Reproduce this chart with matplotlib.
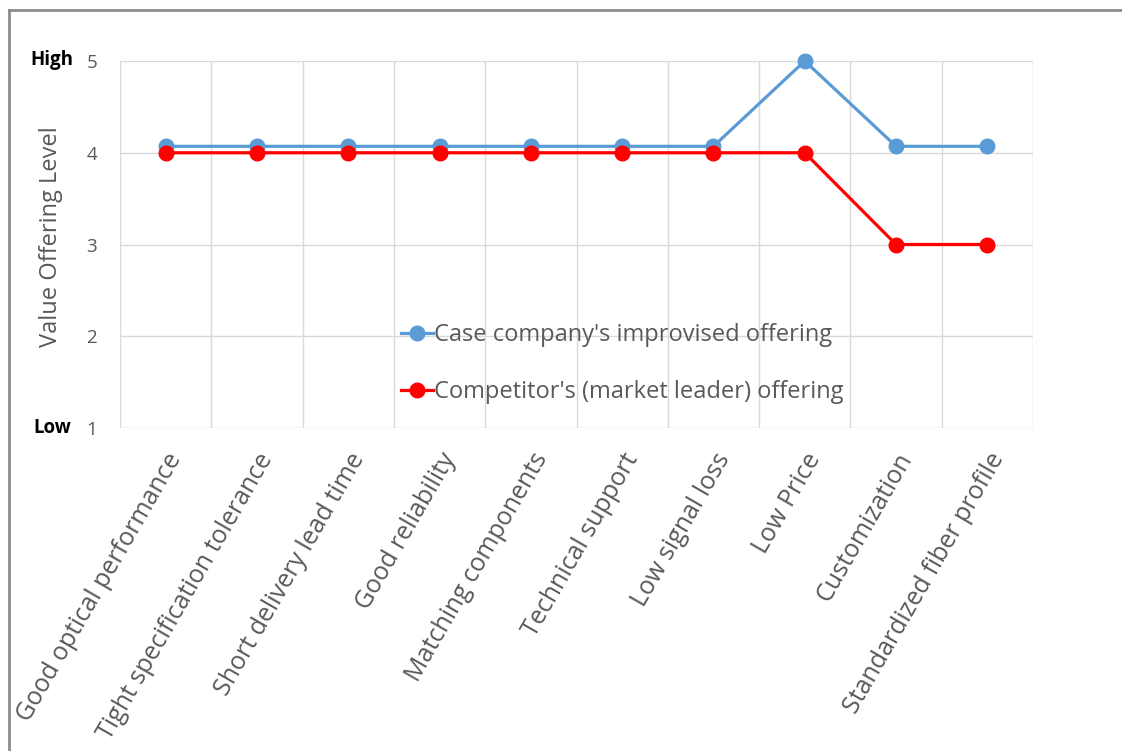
import matplotlib.pyplot as plt
from matplotlib.lines import Line2D

plt.rcParams['font.family'] = ['Open Sans', 'DejaVu Sans']

categories = ['Good optical performance', 'Tight specification tolerance',
              'Short delivery lead time', 'Good reliability', 'Matching components',
              'Technical support', 'Low signal loss', 'Low Price', 'Customization',
              'Standardized fiber profile']
case_company = [4.07, 4.07, 4.07, 4.07, 4.07, 4.07, 4.07, 5, 4.07, 4.07]
competitor = [4, 4, 4, 4, 4, 4, 4, 4, 3, 3]
y_ticks = [1, 2, 3, 4, 5]

W, H = 1122, 751
fig = plt.figure(figsize=(W / 100, H / 100), dpi=100)
ax = fig.add_axes([120 / W, 1 - 428 / H, (1033 - 120) / W, (428 - 61) / H])

x = list(range(len(categories)))
blue = '#5b9bd5'
red = '#ff0000'
gray_text = '#595959'

ax.plot(x, case_company, color=blue, lw=2.3, marker='o', ms=10.5, zorder=3,
        clip_on=False, label="Case company's improvised offering")
ax.plot(x, competitor, color=red, lw=2.3, marker='o', ms=10.5, zorder=4,
        clip_on=False, label="Competitor's (market leader) offering")

ax.set_xlim(-0.5, len(categories) - 0.5)
ax.set_ylim(1, 5)
ax.set_yticks(y_ticks)
ax.set_yticklabels([str(v) for v in y_ticks], fontsize=13.5, color=gray_text)

# vertical gridlines at category boundaries
for b in range(len(categories) + 1):
    ax.axvline(b - 0.5, color='#d9d9d9', lw=1, zorder=1)
ax.yaxis.grid(True, color='#d9d9d9', lw=1, zorder=1)
ax.set_axisbelow(True)
for s in ax.spines.values():
    s.set_visible(False)
ax.tick_params(axis='y', length=0, pad=16.5)
ax.tick_params(axis='x', length=0, pad=15)

ax.set_xticks(x)
ax.set_xticklabels(categories, rotation=60, ha='right', va='top',
                   rotation_mode='anchor', fontsize=18, color=gray_text)

ax.set_ylabel('Value Offering Level', fontsize=17, color=gray_text)
ax.yaxis.set_label_coords((63 - 120) / (1033 - 120), (428 - 237) / (428 - 61))

fig.text(52 / W, 1 - 60 / H, 'High', fontsize=13.5, fontweight='bold', ha='center', va='center')
fig.text(52 / W, 1 - 428 / H, 'Low', fontsize=13.5, fontweight='bold', ha='center', va='center')

leg = ax.legend(loc='upper left', bbox_to_anchor=((392 - 120) / (1033 - 120), (428 - 314) / (428 - 61)),
                frameon=False, fontsize=17, labelspacing=1.37, handlelength=1.35,
                handletextpad=0.05, borderaxespad=0)
for t in leg.get_texts():
    t.set_color(gray_text)

# outer border (left and top)
fig.add_artist(Line2D([9 / W, 9 / W], [0, 1 - 10 / H], color='#8c8c8c', lw=2))
fig.add_artist(Line2D([9 / W, 1], [1 - 10 / H, 1 - 10 / H], color='#8c8c8c', lw=2))

fig.savefig('out.png', dpi=100)
